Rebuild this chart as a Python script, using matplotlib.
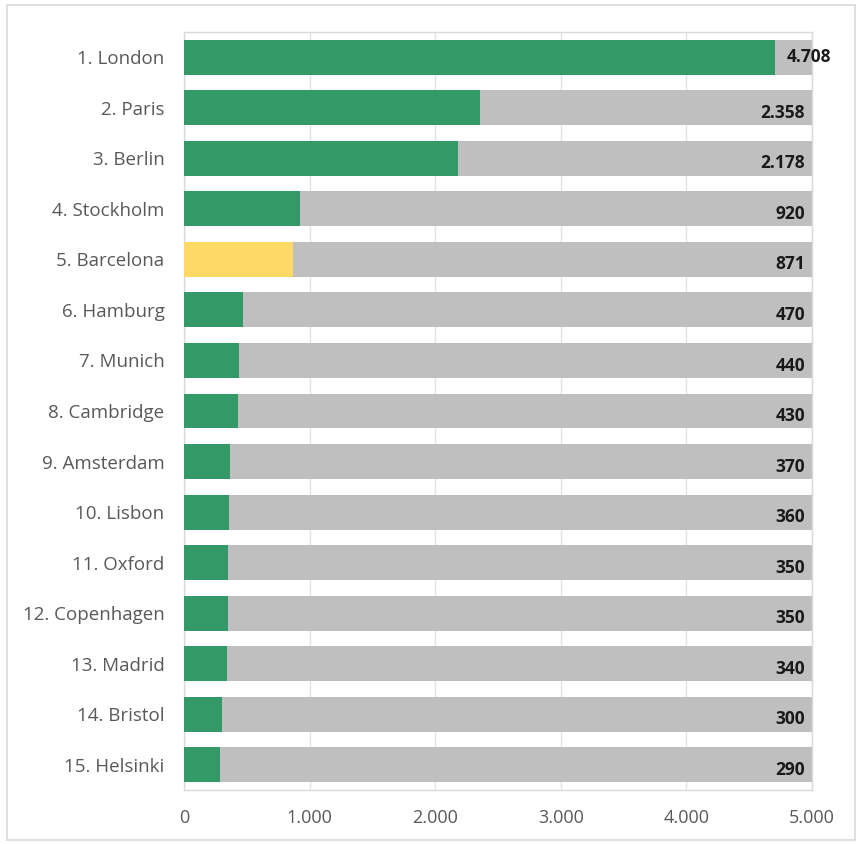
import matplotlib
matplotlib.use("Agg")
import matplotlib.pyplot as plt
from matplotlib.patches import Rectangle

cities = ["1. London", "2. Paris", "3. Berlin", "4. Stockholm", "5. Barcelona",
          "6. Hamburg", "7. Munich", "8. Cambridge", "9. Amsterdam", "10. Lisbon",
          "11. Oxford", "12. Copenhagen", "13. Madrid", "14. Bristol", "15. Helsinki"]
values = [4708, 2358, 2178, 920, 871, 470, 440, 430, 370, 360, 350, 350, 340, 300, 290]
value_labels = ["4.708", "2.358", "2.178", "920", "871", "470", "440", "430", "370",
                "360", "350", "350", "340", "300", "290"]
max_value = 5000
highlight = "5. Barcelona"
ticks = [0, 1000, 2000, 3000, 4000, 5000]
tick_labels = ["0", "1.000", "2.000", "3.000", "4.000", "5.000"]

GREEN = "#339966"
YELLOW = "#FFD966"
GREY = "#BFBFBF"
TXT = "#595959"

plt.rcParams['font.family'] = ['Open Sans', 'DejaVu Sans']

fig = plt.figure(figsize=(8.61, 8.44), dpi=100)
ax = fig.add_axes([184/861, 1-790/844, (812-184)/861, (790-32)/844])

y = list(range(len(cities)))
ax.barh(y, [max_value]*len(cities), height=0.69, color=GREY, zorder=2)
colors = [YELLOW if c == highlight else GREEN for c in cities]
ax.barh(y, values, height=0.69, color=colors, zorder=3)

for i, (v, lab) in enumerate(zip(values, value_labels)):
    if v > 4500:
        ax.text(v + 90, i, lab, ha="left", va="center", fontsize=12.5,
                fontweight="bold", color="#1a1a1a", zorder=4)
    else:
        ax.text(max_value - 55, i + 0.1, lab, ha="right", va="center", fontsize=12.5,
                fontweight="bold", color="#1a1a1a", zorder=4)

ax.set_xlim(0, max_value)
ax.set_ylim(len(cities) - 0.5, -0.5)
ax.set_yticks(y)
ax.set_yticklabels(cities, fontsize=13.5, color=TXT)
ax.set_xticks(ticks)
ax.set_xticklabels(tick_labels, fontsize=13, color=TXT)
ax.tick_params(axis="both", length=0)
ax.tick_params(axis="y", pad=14)
ax.tick_params(axis="x", pad=14)
ax.grid(axis="x", color="#E3E3E3", linewidth=1, zorder=0)
for s in ax.spines.values():
    s.set_color("#D9D9D9")
    s.set_linewidth(1)

fig.patches.append(Rectangle((7/861, 1-840/844), (855-7)/861, (840-5)/844,
                             transform=fig.transFigure, fill=False,
                             edgecolor="#D9D9D9", linewidth=1.2))

fig.savefig("out.png", dpi=100)
